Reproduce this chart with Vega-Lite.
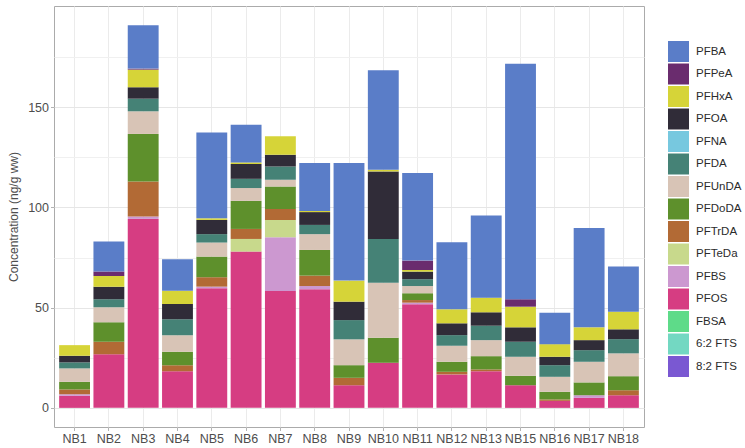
{
  "$schema": "https://vega.github.io/schema/vega-lite/v6.json",
  "width": 590,
  "height": 421,
  "autosize": {"type": "none"},
  "padding": {"left": 54, "top": 6, "right": 101, "bottom": 21},
  "background": "white",
  "config": {
    "font": "Liberation Sans",
    "view": {"stroke": "#ababab", "strokeWidth": 1},
    "axis": {
      "labelFont": "Liberation Sans",
      "titleFont": "Liberation Sans",
      "labelColor": "#4d4d4d",
      "labelFontSize": 12.5,
      "tickColor": "#b3b3b3",
      "tickSize": 3.5,
      "domain": false,
      "gridColor": "#ebebeb"
    },
    "legend": {
      "labelFont": "Liberation Sans",
      "labelFontSize": 11.5,
      "labelColor": "#2b2b2b"
    }
  },
  "datasets": {
    "levels": [
      {"c": "PFBA", "rank": 1},
      {"c": "PFPeA", "rank": 2},
      {"c": "PFHxA", "rank": 3},
      {"c": "PFOA", "rank": 4},
      {"c": "PFNA", "rank": 5},
      {"c": "PFDA", "rank": 6},
      {"c": "PFUnDA", "rank": 7},
      {"c": "PFDoDA", "rank": 8},
      {"c": "PFTrDA", "rank": 9},
      {"c": "PFTeDa", "rank": 10},
      {"c": "PFBS", "rank": 11},
      {"c": "PFOS", "rank": 12},
      {"c": "FBSA", "rank": 13},
      {"c": "6:2 FTS", "rank": 14},
      {"c": "8:2 FTS", "rank": 15}
    ],
    "pfas": [
      {"s": "NB1", "c": "PFOS", "v": 6.0},
      {"s": "NB1", "c": "PFBS", "v": 0.8},
      {"s": "NB1", "c": "PFTrDA", "v": 2.4},
      {"s": "NB1", "c": "PFDoDA", "v": 3.8},
      {"s": "NB1", "c": "PFUnDA", "v": 6.7},
      {"s": "NB1", "c": "PFDA", "v": 3.0},
      {"s": "NB1", "c": "PFOA", "v": 3.3},
      {"s": "NB1", "c": "PFHxA", "v": 5.3},

      {"s": "NB2", "c": "PFOS", "v": 26.8},
      {"s": "NB2", "c": "PFTrDA", "v": 6.2},
      {"s": "NB2", "c": "PFDoDA", "v": 9.7},
      {"s": "NB2", "c": "PFUnDA", "v": 7.5},
      {"s": "NB2", "c": "PFDA", "v": 4.0},
      {"s": "NB2", "c": "PFOA", "v": 6.3},
      {"s": "NB2", "c": "PFHxA", "v": 5.3},
      {"s": "NB2", "c": "PFPeA", "v": 2.2},
      {"s": "NB2", "c": "PFBA", "v": 15.0},

      {"s": "NB3", "c": "PFOS", "v": 94.3},
      {"s": "NB3", "c": "PFBS", "v": 1.2},
      {"s": "NB3", "c": "PFTrDA", "v": 17.5},
      {"s": "NB3", "c": "PFDoDA", "v": 23.7},
      {"s": "NB3", "c": "PFUnDA", "v": 11.3},
      {"s": "NB3", "c": "PFDA", "v": 6.3},
      {"s": "NB3", "c": "PFOA", "v": 5.7},
      {"s": "NB3", "c": "PFHxA", "v": 8.8},
      {"s": "NB3", "c": "PFPeA", "v": 0.5},
      {"s": "NB3", "c": "PFBA", "v": 21.7},

      {"s": "NB4", "c": "PFOS", "v": 18.3},
      {"s": "NB4", "c": "PFTrDA", "v": 3.0},
      {"s": "NB4", "c": "PFDoDA", "v": 6.7},
      {"s": "NB4", "c": "PFUnDA", "v": 8.3},
      {"s": "NB4", "c": "PFDA", "v": 7.9},
      {"s": "NB4", "c": "PFOA", "v": 7.6},
      {"s": "NB4", "c": "PFHxA", "v": 6.7},
      {"s": "NB4", "c": "PFBA", "v": 15.7},

      {"s": "NB5", "c": "PFOS", "v": 59.7},
      {"s": "NB5", "c": "PFBS", "v": 0.8},
      {"s": "NB5", "c": "PFTrDA", "v": 4.7},
      {"s": "NB5", "c": "PFDoDA", "v": 10.3},
      {"s": "NB5", "c": "PFUnDA", "v": 7.0},
      {"s": "NB5", "c": "PFDA", "v": 4.2},
      {"s": "NB5", "c": "PFOA", "v": 7.1},
      {"s": "NB5", "c": "PFHxA", "v": 0.8},
      {"s": "NB5", "c": "PFBA", "v": 42.8},

      {"s": "NB6", "c": "PFOS", "v": 78.0},
      {"s": "NB6", "c": "PFTeDa", "v": 6.3},
      {"s": "NB6", "c": "PFTrDA", "v": 5.0},
      {"s": "NB6", "c": "PFDoDA", "v": 14.0},
      {"s": "NB6", "c": "PFUnDA", "v": 6.4},
      {"s": "NB6", "c": "PFDA", "v": 4.6},
      {"s": "NB6", "c": "PFOA", "v": 7.4},
      {"s": "NB6", "c": "PFHxA", "v": 0.8},
      {"s": "NB6", "c": "PFBA", "v": 18.8},

      {"s": "NB7", "c": "PFOS", "v": 58.3},
      {"s": "NB7", "c": "PFBS", "v": 26.9},
      {"s": "NB7", "c": "PFTeDa", "v": 8.6},
      {"s": "NB7", "c": "PFTrDA", "v": 5.5},
      {"s": "NB7", "c": "PFDoDA", "v": 11.2},
      {"s": "NB7", "c": "PFUnDA", "v": 3.3},
      {"s": "NB7", "c": "PFDA", "v": 6.7},
      {"s": "NB7", "c": "PFOA", "v": 5.8},
      {"s": "NB7", "c": "PFHxA", "v": 9.2},

      {"s": "NB8", "c": "PFOS", "v": 59.2},
      {"s": "NB8", "c": "PFBS", "v": 1.6},
      {"s": "NB8", "c": "PFTrDA", "v": 5.2},
      {"s": "NB8", "c": "PFDoDA", "v": 12.8},
      {"s": "NB8", "c": "PFUnDA", "v": 7.9},
      {"s": "NB8", "c": "PFDA", "v": 4.6},
      {"s": "NB8", "c": "PFOA", "v": 6.4},
      {"s": "NB8", "c": "PFHxA", "v": 0.6},
      {"s": "NB8", "c": "PFBA", "v": 23.9},

      {"s": "NB9", "c": "PFOS", "v": 11.3},
      {"s": "NB9", "c": "PFTrDA", "v": 3.7},
      {"s": "NB9", "c": "PFDoDA", "v": 6.3},
      {"s": "NB9", "c": "PFUnDA", "v": 12.9},
      {"s": "NB9", "c": "PFDA", "v": 9.6},
      {"s": "NB9", "c": "PFOA", "v": 9.2},
      {"s": "NB9", "c": "PFHxA", "v": 10.5},
      {"s": "NB9", "c": "PFBA", "v": 58.7},

      {"s": "NB10", "c": "PFOS", "v": 22.5},
      {"s": "NB10", "c": "PFDoDA", "v": 12.5},
      {"s": "NB10", "c": "PFUnDA", "v": 27.5},
      {"s": "NB10", "c": "PFDA", "v": 21.8},
      {"s": "NB10", "c": "PFOA", "v": 33.7},
      {"s": "NB10", "c": "PFHxA", "v": 0.8},
      {"s": "NB10", "c": "PFBA", "v": 49.7},

      {"s": "NB11", "c": "PFOS", "v": 51.7},
      {"s": "NB11", "c": "PFBS", "v": 0.8},
      {"s": "NB11", "c": "PFTrDA", "v": 1.3},
      {"s": "NB11", "c": "PFDoDA", "v": 3.4},
      {"s": "NB11", "c": "PFUnDA", "v": 3.6},
      {"s": "NB11", "c": "PFDA", "v": 3.4},
      {"s": "NB11", "c": "PFOA", "v": 3.8},
      {"s": "NB11", "c": "PFHxA", "v": 0.8},
      {"s": "NB11", "c": "PFPeA", "v": 4.7},
      {"s": "NB11", "c": "PFBA", "v": 43.7},

      {"s": "NB12", "c": "PFOS", "v": 16.7},
      {"s": "NB12", "c": "PFTrDA", "v": 1.3},
      {"s": "NB12", "c": "PFDoDA", "v": 5.0},
      {"s": "NB12", "c": "PFUnDA", "v": 8.0},
      {"s": "NB12", "c": "PFDA", "v": 5.3},
      {"s": "NB12", "c": "PFOA", "v": 5.9},
      {"s": "NB12", "c": "PFHxA", "v": 7.0},
      {"s": "NB12", "c": "PFBA", "v": 33.5},

      {"s": "NB13", "c": "PFOS", "v": 18.3},
      {"s": "NB13", "c": "PFTrDA", "v": 0.9},
      {"s": "NB13", "c": "PFDoDA", "v": 6.6},
      {"s": "NB13", "c": "PFUnDA", "v": 8.0},
      {"s": "NB13", "c": "PFDA", "v": 7.2},
      {"s": "NB13", "c": "PFOA", "v": 6.7},
      {"s": "NB13", "c": "PFHxA", "v": 7.3},
      {"s": "NB13", "c": "PFBA", "v": 41.0},

      {"s": "NB15", "c": "PFOS", "v": 11.3},
      {"s": "NB15", "c": "PFDoDA", "v": 4.7},
      {"s": "NB15", "c": "PFUnDA", "v": 9.5},
      {"s": "NB15", "c": "PFDA", "v": 7.5},
      {"s": "NB15", "c": "PFOA", "v": 7.2},
      {"s": "NB15", "c": "PFHxA", "v": 10.3},
      {"s": "NB15", "c": "PFPeA", "v": 3.7},
      {"s": "NB15", "c": "PFBA", "v": 117.5},

      {"s": "NB16", "c": "PFOS", "v": 3.5},
      {"s": "NB16", "c": "PFTrDA", "v": 0.7},
      {"s": "NB16", "c": "PFDoDA", "v": 3.8},
      {"s": "NB16", "c": "PFUnDA", "v": 7.5},
      {"s": "NB16", "c": "PFDA", "v": 5.8},
      {"s": "NB16", "c": "PFOA", "v": 4.2},
      {"s": "NB16", "c": "PFHxA", "v": 6.3},
      {"s": "NB16", "c": "PFBA", "v": 15.7},

      {"s": "NB17", "c": "PFOS", "v": 5.0},
      {"s": "NB17", "c": "PFBS", "v": 1.3},
      {"s": "NB17", "c": "PFDoDA", "v": 6.4},
      {"s": "NB17", "c": "PFUnDA", "v": 10.3},
      {"s": "NB17", "c": "PFDA", "v": 5.8},
      {"s": "NB17", "c": "PFOA", "v": 5.0},
      {"s": "NB17", "c": "PFHxA", "v": 6.4},
      {"s": "NB17", "c": "PFBA", "v": 49.5},

      {"s": "NB18", "c": "PFOS", "v": 6.3},
      {"s": "NB18", "c": "PFTrDA", "v": 2.5},
      {"s": "NB18", "c": "PFDoDA", "v": 7.0},
      {"s": "NB18", "c": "PFUnDA", "v": 11.4},
      {"s": "NB18", "c": "PFDA", "v": 7.1},
      {"s": "NB18", "c": "PFOA", "v": 4.9},
      {"s": "NB18", "c": "PFHxA", "v": 8.8},
      {"s": "NB18", "c": "PFBA", "v": 22.5}
    ]
  },
  "data": {"name": "pfas"},
  "transform": [
    {"lookup": "c", "from": {"data": {"name": "levels"}, "key": "c", "fields": ["rank"]}}
  ],
  "mark": {"type": "bar", "strokeWidth": 0},
  "encoding": {
    "x": {
      "field": "s",
      "type": "nominal",
      "sort": ["NB1", "NB2", "NB3", "NB4", "NB5", "NB6", "NB7", "NB8", "NB9", "NB10", "NB11", "NB12", "NB13", "NB15", "NB16", "NB17", "NB18"],
      "scale": {"paddingInner": 0.1, "paddingOuter": 0.15},
      "axis": {
        "title": null,
        "labelAngle": 0,
        "labelPadding": 2,
        "grid": true,
        "gridColor": "#ebebeb",
        "gridWidth": 1
      }
    },
    "y": {
      "field": "v",
      "type": "quantitative",
      "aggregate": "sum",
      "stack": "zero",
      "scale": {"domain": [-9.55, 200.55], "nice": false, "zero": false},
      "axis": {
        "title": "Concentration (ng/g ww)",
        "titleFontSize": 12,
        "titleFontWeight": "normal",
        "titleColor": "#4d4d4d",
        "titlePadding": 7,
        "values": [0, 25, 50, 75, 100, 125, 150, 175],
        "labelExpr": "datum.value % 50 === 0 ? datum.label : ''",
        "labelPadding": 2,
        "tickOpacity": {"condition": {"test": "datum.value % 50 === 0", "value": 1}, "value": 0},
        "gridColor": {"condition": {"test": "datum.value % 50 === 0", "value": "#e6e6e6"}, "value": "#f0f0f0"},
        "gridWidth": 1
      }
    },
    "color": {
      "field": "c",
      "type": "nominal",
      "scale": {
        "domain": ["PFBA", "PFPeA", "PFHxA", "PFOA", "PFNA", "PFDA", "PFUnDA", "PFDoDA", "PFTrDA", "PFTeDa", "PFBS", "PFOS", "FBSA", "6:2 FTS", "8:2 FTS"],
        "range": ["#5a7dc8", "#6a2c6e", "#d6d438", "#302c38", "#77c8df", "#458276", "#d8c4b6", "#5e902c", "#b26a35", "#c8d98c", "#cc98d0", "#d63d82", "#5edb89", "#73d8c2", "#7a58d2"]
      },
      "legend": {
        "title": null,
        "orient": "none",
        "legendX": 614,
        "legendY": 35,
        "symbolType": "square",
        "symbolSize": 441,
        "symbolStrokeWidth": 0,
        "symbolOpacity": 1,
        "rowPadding": 1.5,
        "labelOffset": 7
      }
    },
    "order": {"field": "rank", "type": "quantitative", "sort": "descending"}
  }
}
